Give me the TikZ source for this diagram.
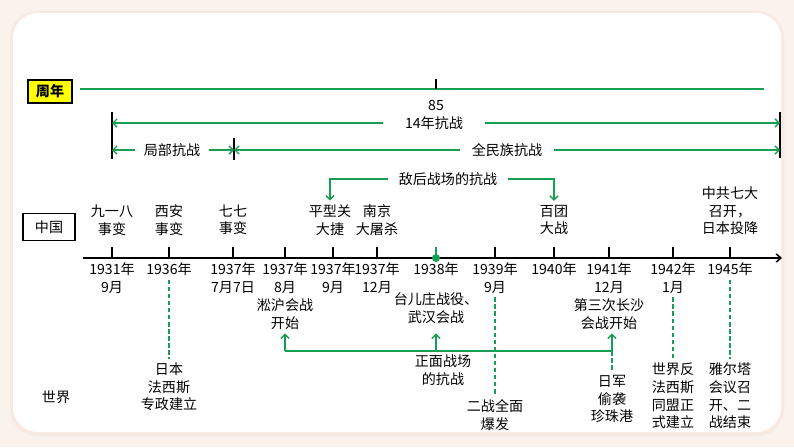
\documentclass[tikz,border=0pt]{standalone}
\usepackage{fontspec}
\setmainfont{Noto Sans CJK SC}
\usepackage{tikz}
\usetikzlibrary{arrows.meta,positioning,calc}
\definecolor{linegreen}{RGB}{22,158,82}
\definecolor{panelbg}{RGB}{250,242,236}
\definecolor{shadowbg}{RGB}{246,234,226}
\definecolor{tagyellow}{RGB}{255,255,0}
\tikzset{
  % 全局字体
  every node/.append style={font=\fontsize{12}{15}\selectfont},
}

\begin{document}
\begin{tikzpicture}[x=0.03cm, y=-0.03cm,
        lbl/.style={align=center},
        tag/.style={draw, line width=0.9pt, minimum width=1.56cm, minimum height=0.81cm},
        gline/.style={linegreen, line width=1.2pt},
        arr/.style={gline, -{Straight Barb[length=3.5pt,width=7pt]}},
        link/.style={linegreen, line width=1pt, dash pattern=on 4pt off 2pt},
        bar/.style={black, line width=1.5pt},
        tick/.style={black, line width=1.2pt},
        axis/.style={black, line width=1.3pt, -{Straight Barb[length=4pt,width=7pt]}}
    ]
        % 背景
        \fill[panelbg] (0,0) rectangle (794,447);
        \fill[shadowbg, rounded corners=0.8cm] (10,11) rectangle (784,436);
        \fill[white, rounded corners=0.75cm] (13,13) rectangle (781,432);

        % 周年
        \node[tag, fill=tagyellow, minimum width=1.32cm, minimum height=0.69cm, font=\fontsize{12}{15}\selectfont\bfseries] (zn) at (50,91.5) {周年};
        \coordinate (zn0) at (80,89);
        \coordinate (zn1) at (764,89);
        \coordinate (yr85) at (436,79);
        \draw[gline] (zn0) -- (zn1);
        \draw[tick] (yr85) -- (yr85 |- zn0);
        \node[lbl] (n85) at (436,105) {85};

        % 14年抗战
        \coordinate (barL0) at (112,112);
        \coordinate (barL1) at (112,159);
        \coordinate (barR0) at (780,112);
        \coordinate (barR1) at (780,158);
        \coordinate (barM0) at (234,138);
        \coordinate (barM1) at (234,160);
        \draw[bar] (barL0) -- (barL1);
        \draw[bar] (barR0) -- (barR1);
        \draw[bar] (barM0) -- (barM1);

        \node[lbl, inner xsep=0.66cm] (n14) at (434,123) {14年抗战};
        \coordinate (b14L) at (112,123);
        \coordinate (b14R) at (780,123);
        \draw[arr] (n14.west) -- (b14L);
        \draw[arr] (n14.east) -- (b14R);

        \node[lbl, inner xsep=0.25cm] (jb) at (172,150) {局部抗战};
        \coordinate (jbL) at (112,150);
        \coordinate (jbR) at (234,150);
        \draw[arr] (jb.west) -- (jbL);
        \draw[arr] (jb.east) -- (jbR);

        \node[lbl, inner xsep=0.36cm] (qm) at (507,150) {全民族抗战};
        \coordinate (qmL) at (234,150);
        \coordinate (qmR) at (780,150);
        \draw[arr] (qm.west) -- (qmL);
        \draw[arr] (qm.east) -- (qmR);

        % 中国
        \node[tag] (cn) at (49,227) {中国};
        \node[lbl] (e918) at (112,220) {九一八\\事变};
        \node[lbl] (exa) at (169,220) {西安\\事变};
        \node[lbl] (e77) at (233,220) {七七\\事变};
        \node[lbl] (epxg) at (330,220) {平型关\\大捷};
        \node[lbl] (enj) at (377,220) {南京\\大屠杀};
        \node[lbl] (ebt) at (554,220) {百团\\大战};
        \node[lbl] (e7d) at (730,211) {中共七大\\召开，\\日本投降};

        % 敌后战场
        \node[lbl, inner xsep=0.33cm] (dh) at (448,179) {敌后战场的抗战};
        \draw[arr] (dh.west) -| (epxg.north);
        \draw[arr] (dh.east) -| (ebt.north);

        % 时间轴
        \coordinate (ax0) at (83,258);
        \coordinate (ax1) at (782,258);
        \draw[axis] (ax0) -- (ax1);

        \coordinate (t1931) at (112,247);
        \coordinate (t1936) at (169,247);
        \coordinate (t1937a) at (233,247);
        \coordinate (t1937b) at (285,247);
        \coordinate (t1937c) at (333,247);
        \coordinate (t1937d) at (377,247);
        \coordinate (t1938) at (436,247);
        \coordinate (t1939) at (495,247);
        \coordinate (t1940) at (554,247);
        \coordinate (t1941) at (609,247);
        \coordinate (t1942) at (673,247);
        \coordinate (t1945) at (730,247);
        \draw[tick] (t1931) -- (t1931 |- ax0);
        \draw[tick] (t1936) -- (t1936 |- ax0);
        \draw[tick] (t1937a) -- (t1937a |- ax0);
        \draw[tick] (t1937b) -- (t1937b |- ax0);
        \draw[tick] (t1937c) -- (t1937c |- ax0);
        \draw[tick] (t1937d) -- (t1937d |- ax0);
        \draw[gline] (t1938) -- (t1938 |- ax0);
        \fill[linegreen] (t1938 |- ax0) circle (4);
        \draw[tick] (t1939) -- (t1939 |- ax0);
        \draw[tick] (t1940) -- (t1940 |- ax0);
        \draw[tick] (t1941) -- (t1941 |- ax0);
        \draw[tick] (t1942) -- (t1942 |- ax0);
        \draw[tick] (t1945) -- (t1945 |- ax0);

        % 日期
        \node[lbl] (d1931) at (112,278) {1931年\\9月};
        \node[lbl] (d1936) at (169,269) {1936年};
        \node[lbl] (d1937a) at (233,278) {1937年\\7月7日};
        \node[lbl] (d1937b) at (285,278) {1937年\\8月};
        \node[lbl] (d1937c) at (333,278) {1937年\\9月};
        \node[lbl] (d1937d) at (377,278) {1937年\\12月};
        \node[lbl] (d1938) at (436,269) {1938年};
        \node[lbl] (d1939) at (495,278) {1939年\\9月};
        \node[lbl] (d1940) at (554,269) {1940年};
        \node[lbl] (d1941) at (609,278) {1941年\\12月};
        \node[lbl] (d1942) at (673,278) {1942年\\1月};
        \node[lbl] (d1945) at (730,269) {1945年};

        % 正面战场
        \node[lbl] (esh) at (285,314) {淞沪会战\\开始};
        \node[lbl] (etez) at (436,308) {台儿庄战役、\\武汉会战};
        \node[lbl] (ecs) at (609,314) {第三次长沙\\会战开始};
        \node[lbl] (ezm) at (443,370) {正面战场\\的抗战};
        \coordinate (zmL) at (285,351);
        \coordinate (zmM) at (436,351);
        \coordinate (zmR) at (612,351);
        \draw[gline] (zmL) -- (zmR);
        \draw[arr] (zmL) -- (zmL |- esh.south);
        \draw[arr] (zmM) -- (zmM |- esh.south);
        \draw[arr] (zmR) -- (zmR |- esh.south);

        % 世界
        \node[lbl] (sj) at (56,397) {世界};
        \node[lbl] (ejp) at (169,387) {日本\\法西斯\\专政建立};
        \node[lbl] (eww2) at (495,415) {二战全面\\爆发};
        \node[lbl] (ezzg) at (612,399) {日军\\偷袭\\珍珠港};
        \node[lbl] (efx) at (673,396) {世界反\\法西斯\\同盟正\\式建立};
        \node[lbl] (eyt) at (730,396) {雅尔塔\\会议召\\开、二\\战结束};

        \draw[link] (d1936.south) -- (ejp.north);
        \draw[link] (d1939.south) -- (eww2.north);
        \draw[link] (zmR) -- (ezzg.north);
        \draw[link] (d1942.south) -- (efx.north);
        \draw[link] (d1945.south) -- (eyt.north);
    \end{tikzpicture}
\end{document}
